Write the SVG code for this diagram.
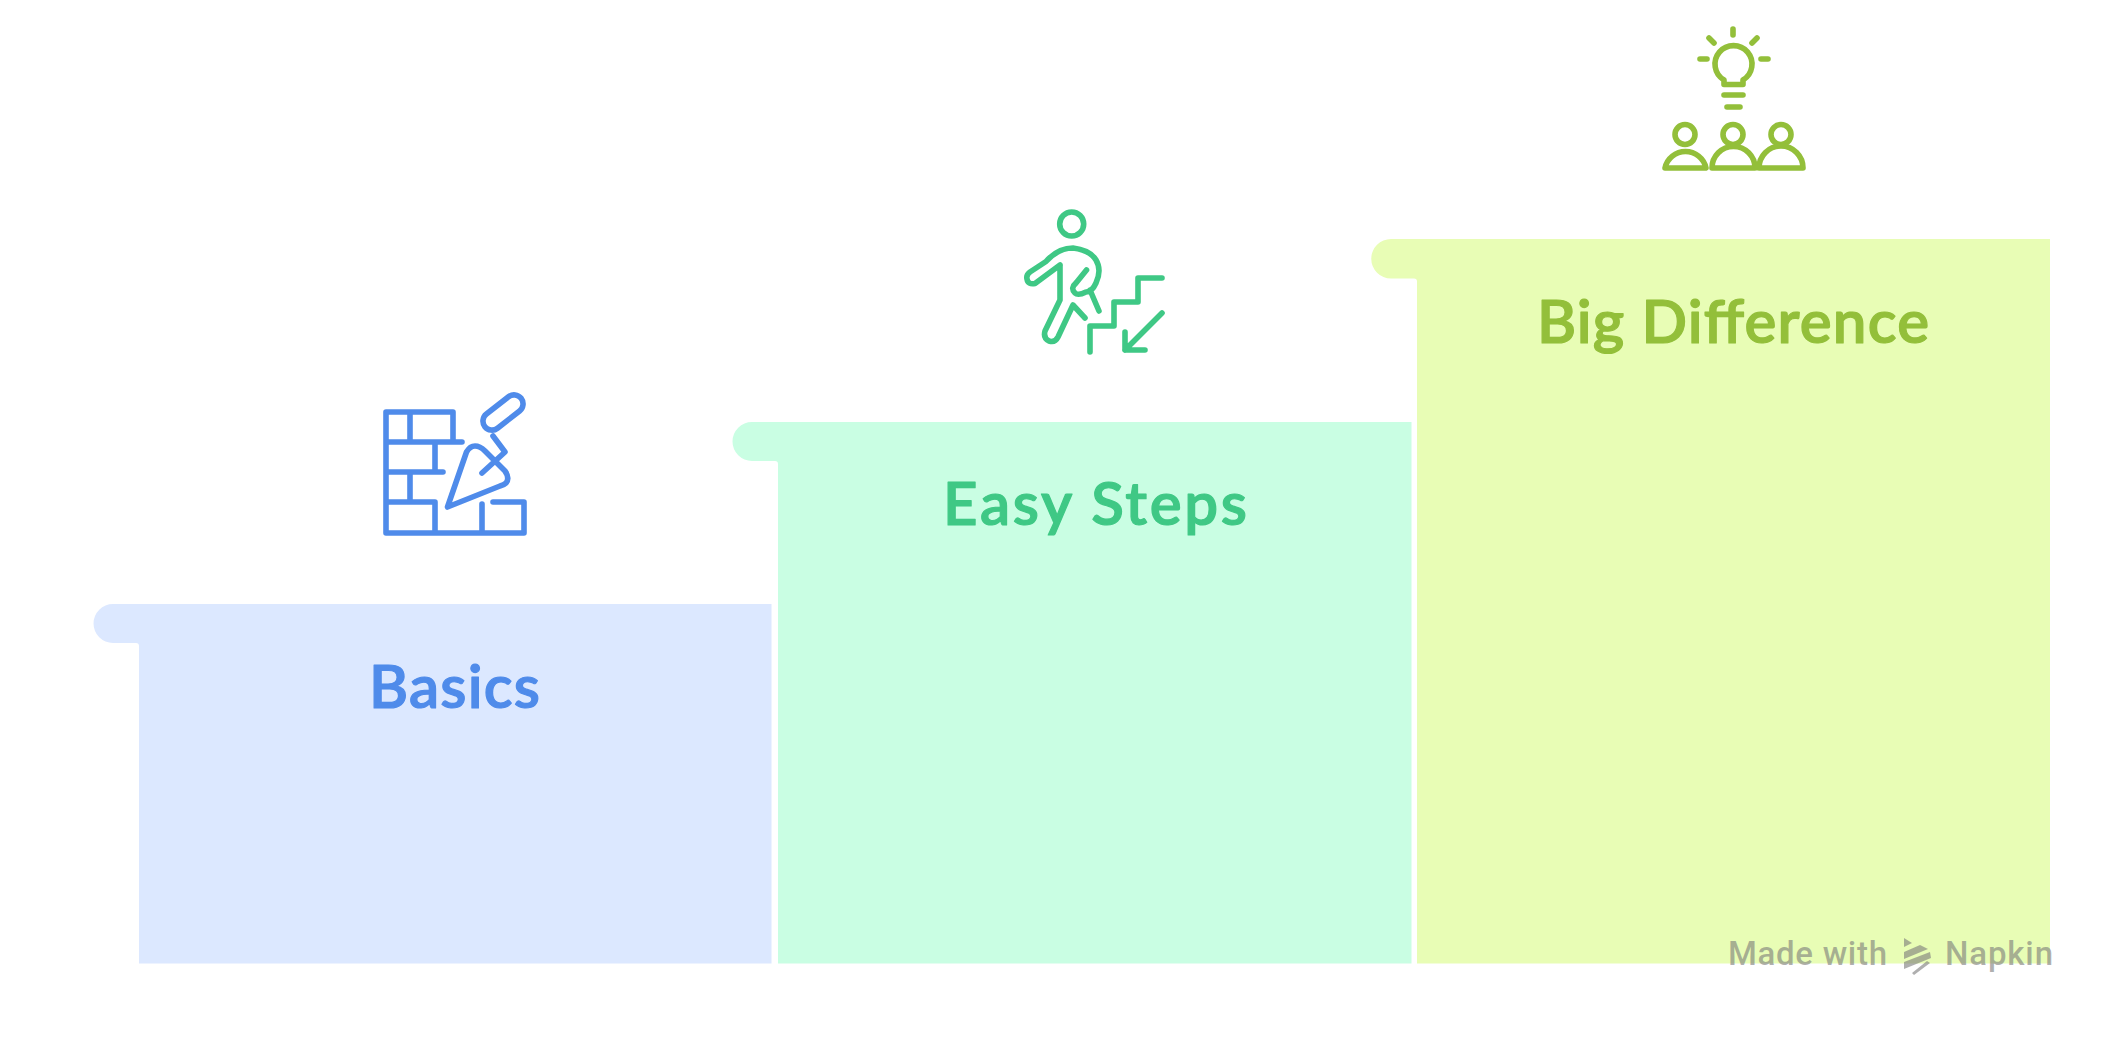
<svg xmlns="http://www.w3.org/2000/svg" width="2126" height="1038" viewBox="0 0 2126 1038">
<style>
.ic{fill:none;stroke-width:5.6;stroke-linecap:round;stroke-linejoin:round}
.lb{font-family:"Lato","Open Sans",sans-serif;font-size:60px;font-weight:600;stroke-width:1.2px;stroke-linejoin:round}
.wm{font-family:"Roboto","Open Sans",sans-serif;font-size:33px;font-weight:500;fill:#7a7a7a;fill-opacity:.6}
</style>
<rect width="2126" height="1038" fill="#fff"/>
<g id="step-basics">
<path d="M113 604H771.500V963.500H139V646Q139 643 136 643H113A19.500 19.500 0 0 1 113 604Z" fill="#dce8ff"/>
<text class="lb" x="369" y="708" fill="#4f8bea" stroke="#4f8bea" textLength="171" lengthAdjust="spacing">Basics</text>
<g class="ic" stroke="#4f8bea">
<path d="M453 442V412H386V533H524V502H493M386 442H462M410 412V442M435 442V472M386 472H443M410 472V502M386 502H435V533M482 533V504"/>
<rect x="480" y="403.500" width="46" height="18" rx="9" transform="rotate(-38 503 412.500)"/>
<path d="M447.500 507L466.500 452Q470 446 475 446Q480 446 485 451L505 471Q510 478 506 483Q504 485 500 486ZM482 473L505 452L493 436"/>
</g>
</g>
<g id="step-easy">
<path d="M752 422H1411.500V963.500H778V464Q778 461 775 461H752A19.500 19.500 0 0 1 752 422Z" fill="#c9fee3"/>
<text class="lb" x="943" y="525" fill="#3fc885" stroke="#3fc885" textLength="304" lengthAdjust="spacing">Easy Steps</text>
<g class="ic" stroke="#3fc885">
<circle cx="1071.700" cy="224" r="12"/>
<path d="M1060 265L1035 283.500Q1028 285 1027 279Q1026 275 1030 272L1046 261.500Q1058 248 1073 248Q1090 250 1096 260Q1102 270 1096 283Q1092 292 1086 292Q1078 296 1075 293Q1070 288 1076 283L1086.500 270M1060 265V300L1045 331Q1043 338 1049 341Q1055 343 1058 337L1073 305L1085 318M1090 290L1099 311"/>
<path d="M1090 352V326H1114V302H1138V278H1162M1162 313L1125 350M1125 332V350H1145"/>
</g>
</g>
<g id="step-big">
<path d="M1391 239H2050V963.500H1417V281.500Q1417 278.500 1414 278.500H1391A19.750 19.750 0 0 1 1391 239Z" fill="#e8fdb5"/>
<text class="lb" x="1537" y="343" fill="#93bf3a" stroke="#93bf3a" textLength="392" lengthAdjust="spacing">Big Difference</text>
<g class="ic" stroke="#93bf3a">
<path d="M1733 29V35M1709 38L1714 43M1757 38L1752 43M1700 59H1707M1761 59H1768M1724 95H1743M1727 107H1740"/>
<path d="M1724 80A18.500 18.500 0 1 1 1743 80V84.500H1724Z"/>
<circle cx="1685" cy="134.500" r="10"/><circle cx="1733" cy="134.500" r="10"/><circle cx="1781" cy="134.500" r="10"/>
<path d="M1665 168A21 21 0 0 1 1706 168ZM1712 168A21 21 0 0 1 1755 168ZM1759 168A21 21 0 0 1 1803 168Z"/>
</g>
</g>
<g id="watermark">
<text class="wm" x="1728" y="965" textLength="159" lengthAdjust="spacing">Made with</text>
<text class="wm" x="1945" y="965" textLength="108" lengthAdjust="spacing">Napkin</text>
<g fill="#7a7a7a" fill-opacity=".6">
<path d="M1904 938L1912 943L1904 947ZM1904 952L1920 945L1928 949L1904 959ZM1904 962L1930 952L1931 958L1904 969ZM1912 973L1927 961L1930 963L1914 975Z"/>
</g>
</g>
<g id="connectors"></g>
</svg>
